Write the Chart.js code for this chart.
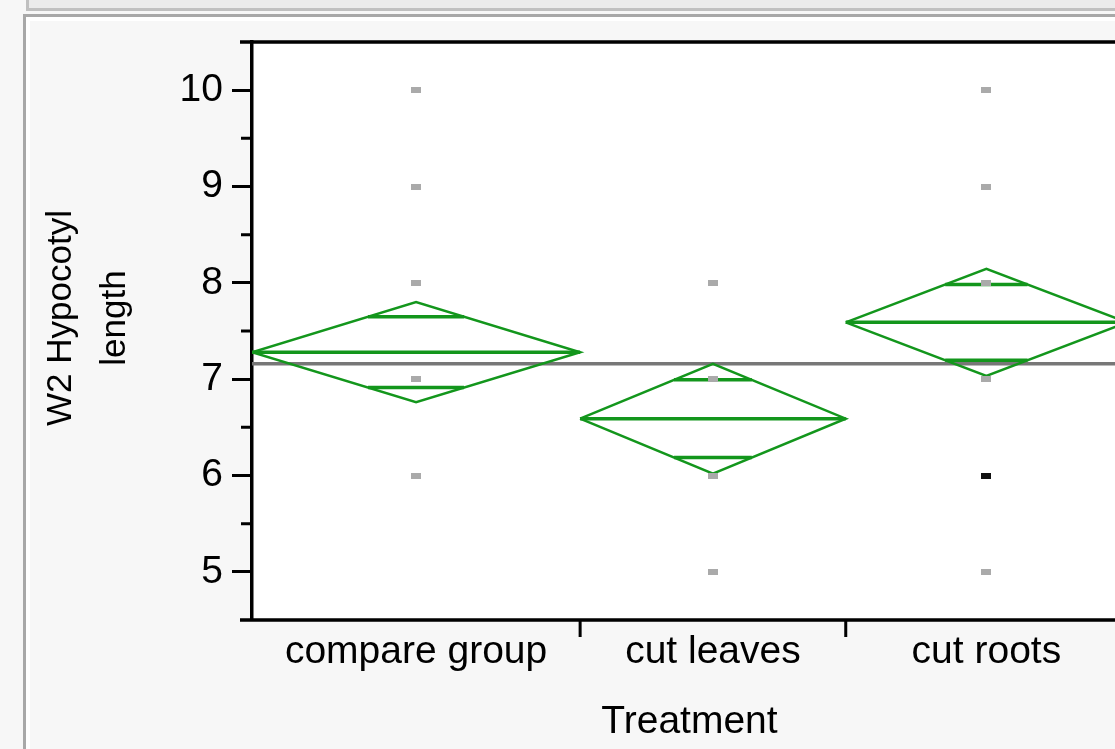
<!DOCTYPE html>
<html>
<head>
<meta charset="utf-8">
<script src="https://cdn.jsdelivr.net/npm/chart.js@4"></script>
<style>
  html, body { margin: 0; padding: 0; width: 1115px; height: 749px; overflow: hidden; background: #f7f7f7; }
  .strip { position: absolute; left: 26px; top: 0; width: 1200px; height: 8px; background: #ebebeb;
           border-left: 3px solid #c0c0c0; border-bottom: 3px solid #c0c0c0; }
  .frame { position: absolute; left: 23px; top: 14px; width: 1200px; height: 800px; background: #f7f7f7;
           border-top: 3px solid #a8a8a8; border-left: 3px solid #a8a8a8; box-shadow: inset 4px 4px 0 #fff; }
  #wrap { position: absolute; left: 0; top: 0; width: 1140px; height: 749px; }
</style>
</head>
<body>
<div class="strip"></div>
<div class="frame"></div>
<div id="wrap"><canvas id="chart"></canvas></div>
<script>
// Data
const categories = ['compare group', 'cut leaves', 'cut roots'];
const groupCounts = [21, 17, 18];          // group sizes set the width of each column
const groupMeans = [7.28, 6.59, 7.59];
const ciHalfWidths = [0.52, 0.57, 0.555];  // 95% CI half widths (diamond heights)
const grandMean = 7.16;
const yTicks = [5, 6, 7, 8, 9, 10];

const compareGroupValues = [10, 9, 8, 7, 6];
const cutLeavesValues = [8, 7, 6, 5];
const cutRootsValues = [10, 9, 8, 7, 5];
const cutRootsSelected = [6];

const GREEN = '#13961c';
const FONT = 'Liberation Sans, Arial, sans-serif';

const total = groupCounts.reduce((a, b) => a + b, 0);
const starts = [];
let acc = 0;
groupCounts.forEach(n => { starts.push(acc); acc += n; });
const centers = starts.map((s, i) => s + groupCounts[i] / 2);

function diamond(i) {
    const s = starts[i], e = s + groupCounts[i], c = centers[i];
    const m = groupMeans[i], h = ciHalfWidths[i];
    return [{x: s, y: m}, {x: c, y: m + h}, {x: e, y: m}, {x: c, y: m - h}, {x: s, y: m}];
}

// mean line plus the two overlap marks, broken by null gaps
function meanMarks(i) {
    const s = starts[i], e = s + groupCounts[i], c = centers[i];
    const m = groupMeans[i], d = ciHalfWidths[i] / Math.SQRT2;
    const dx = groupCounts[i] / 2 * (1 - 1 / Math.SQRT2);
    return [
        {x: s, y: m}, {x: e, y: m}, {x: c, y: null},
        {x: c - dx, y: m + d}, {x: c + dx, y: m + d}, {x: c, y: null},
        {x: c - dx, y: m - d}, {x: c + dx, y: m - d}
    ];
}

function marker(color) {
    const c = document.createElement('canvas');
    c.width = 10; c.height = 6;
    const g = c.getContext('2d');
    g.fillStyle = color;
    g.fillRect(0, 0, 10, 6);
    return c;
}
const grayMark = marker('#aaaaaa');
const blackMark = marker('#111111');

const points = [];
[compareGroupValues, cutLeavesValues, cutRootsValues].forEach((vals, i) => {
    vals.forEach(v => points.push({x: centers[i], y: v}));
});

const datasets = [
    { data: cutRootsSelected.map(v => ({x: centers[2], y: v})), pointStyle: blackMark, pointRadius: 4 },
    { data: points, pointStyle: grayMark, pointRadius: 4 }
];
categories.forEach((c, i) => {
    datasets.push({ data: meanMarks(i), showLine: true, spanGaps: false, borderColor: GREEN, borderWidth: 3.5, pointRadius: 0 });
    datasets.push({ data: diamond(i), showLine: true, borderColor: GREEN, borderWidth: 2.5, pointRadius: 0 });
});
datasets.push({ data: [{x: 0, y: grandMean}, {x: total, y: grandMean}], showLine: true,
    borderColor: '#777777', borderWidth: 3.5, pointRadius: 0 });

const framePlugin = {
    id: 'frame',
    beforeDraw(chart) {
        const {ctx, chartArea: a} = chart;
        ctx.save();
        ctx.fillStyle = '#ffffff';
        ctx.fillRect(a.left, a.top, a.right - a.left, a.bottom - a.top);
        ctx.restore();
    },
    afterDraw(chart) {
        const {ctx, chartArea: a, scales: {x, y}} = chart;
        ctx.save();
        ctx.strokeStyle = '#000';
        ctx.lineWidth = 3.5;
        ctx.beginPath();
        ctx.moveTo(a.left - 12, a.top); ctx.lineTo(a.right, a.top);
        ctx.moveTo(a.left - 12, a.bottom); ctx.lineTo(a.right, a.bottom);
        ctx.stroke();
        ctx.lineWidth = 3;
        ctx.beginPath();
        // minor ticks halfway between labelled ticks
        for (let k = 0; k < yTicks.length - 1; k++) {
            const py = y.getPixelForValue((yTicks[k] + yTicks[k + 1]) / 2);
            ctx.moveTo(a.left - 11, py); ctx.lineTo(a.left, py);
        }
        // group dividers on the x axis
        for (let k = 1; k < starts.length; k++) {
            const px = x.getPixelForValue(starts[k]);
            ctx.moveTo(px, a.bottom); ctx.lineTo(px, a.bottom + 17);
        }
        ctx.stroke();

        // y axis title, two lines
        ctx.fillStyle = '#000';
        ctx.font = '35px ' + FONT;
        ctx.textAlign = 'center';
        ctx.textBaseline = 'middle';
        ctx.translate(88, 318);
        ctx.rotate(-Math.PI / 2);
        ctx.fillText('W2 Hypocotyl', 0, -27);
        ctx.fillText('length', 0, 27);
        ctx.restore();
    }
};

new Chart(document.getElementById('chart'), {
    type: 'scatter',
    data: { datasets: datasets },
    options: {
        responsive: true,
        maintainAspectRatio: false,
        animation: false,
        events: [],
        layout: { padding: { top: 42, right: 13, left: 0, bottom: 0 } },
        plugins: { legend: { display: false }, tooltip: { enabled: false } },
        scales: {
            x: {
                type: 'linear', min: 0, max: total,
                afterBuildTicks: s => { s.ticks = centers.map(v => ({value: v})); },
                afterFit: s => { s.height = 129; },
                ticks: {
                    callback: (v, idx) => categories[idx],
                    font: { family: FONT, size: 39 }, color: '#000',
                    padding: 9, maxRotation: 0, autoSkip: false
                },
                grid: { display: false, drawTicks: false },
                border: { display: false },
                title: { display: true, text: 'Treatment', color: '#000',
                         font: { family: FONT, size: 39 }, padding: { top: 4, bottom: 3 } }
            },
            y: {
                type: 'linear', min: 4.5, max: 10.5,
                afterBuildTicks: s => { s.ticks = yTicks.map(v => ({value: v})); },
                afterFit: s => { s.width = 252; },
                ticks: { font: { family: FONT, size: 39 }, color: '#000', padding: 9 },
                grid: { drawOnChartArea: false, drawTicks: true, tickLength: 20, tickWidth: 3, tickColor: '#000' },
                border: { display: true, width: 3.5, color: '#000' }
            }
        }
    },
    plugins: [framePlugin]
});
</script>
</body>
</html>
